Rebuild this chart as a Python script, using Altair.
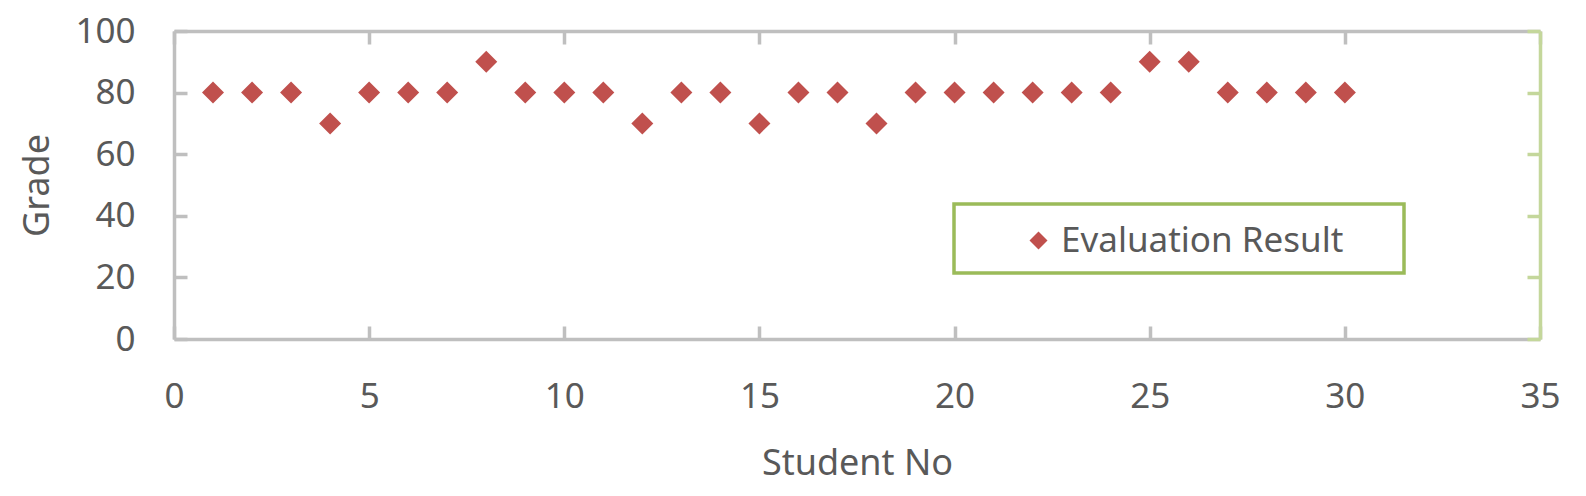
import altair as alt
import pandas as pd

# Grades per student
student_no = list(range(1, 31))
grade = [80, 80, 80, 70, 80, 80, 80, 90, 80, 80,
         80, 70, 80, 80, 70, 80, 80, 70, 80, 80,
         80, 80, 80, 80, 90, 90, 80, 80, 80, 80]
series_name = "Evaluation Result"

x_ticks = [0, 5, 10, 15, 20, 25, 30, 35]
y_ticks = [0, 20, 40, 60, 80, 100]

df = pd.DataFrame({"Student No": student_no, "Grade": grade, "series": series_name})

W, H = 1366, 308
FONT = "Noto Sans"
TEXT = "#595959"
GRAY = "#bfbfbf"
GREEN_AXIS = "#c4d79b"
LEGEND_BORDER = "#9bbb59"
MARKER = "#c0504d"
LINE_W = 3.5
TICK = 13

x_scale = alt.Scale(domain=[0, 35], nice=False, zero=False)
y_scale = alt.Scale(domain=[0, 100], nice=False)

base = alt.Chart(df)

# Data points with the labelled left / bottom axes
points = base.mark_point(shape="diamond", filled=True, size=484, opacity=1, strokeWidth=0).encode(
    x=alt.X("Student No:Q", scale=x_scale,
            axis=alt.Axis(orient="bottom", values=x_ticks, domain=True, domainColor=GRAY,
                          domainWidth=LINE_W, ticks=False, labelPadding=40, labelFlush=False,
                          labelFontSize=35, labelFont=FONT, labelColor=TEXT,
                          title="Student No", titleFontSize=36, titleFont=FONT,
                          titleColor=TEXT, titleFontWeight="normal", titlePadding=32)),
    y=alt.Y("Grade:Q", scale=y_scale,
            axis=alt.Axis(orient="left", values=y_ticks, domain=True, domainColor=GRAY,
                          domainWidth=LINE_W, ticks=False, labelPadding=39, labelFlush=False,
                          labelFontSize=35, labelFont=FONT, labelColor=TEXT,
                          title="Grade", titleFontSize=36, titleFont=FONT,
                          titleColor=TEXT, titleFontWeight="normal", titlePadding=18)),
    color=alt.Color("series:N", scale=alt.Scale(range=[MARKER]),
                    legend=alt.Legend(orient="none", legendX=847, legendY=192, title=None,
                                      symbolType="diamond", symbolSize=324,
                                      symbolStrokeWidth=0, labelFontSize=35, labelLimit=0,
                                      labelFont=FONT, labelColor=TEXT, labelOffset=5,
                                      padding=0)),
)

# Inward ticks: up from the bottom edge, right from the left edge
inner_ticks = base.mark_point(opacity=0).encode(
    x=alt.X("Student No:Q", scale=x_scale,
            axis=alt.Axis(orient="top", offset=-H, values=x_ticks, domain=False,
                          ticks=True, tickColor=GRAY, tickWidth=LINE_W, tickSize=TICK,
                          labels=False, title=None)),
    y=alt.Y("Grade:Q", scale=y_scale,
            axis=alt.Axis(orient="right", offset=-W, values=y_ticks, domain=False,
                          ticks=True, tickColor=GRAY, tickWidth=LINE_W, tickSize=TICK,
                          labels=False, title=None)),
)

# Frame: top edge (gray, ticks down) and right edge (green, ticks left)
frame = base.mark_point(opacity=0).encode(
    x=alt.X("Student No:Q", scale=x_scale,
            axis=alt.Axis(orient="bottom", offset=-H, values=x_ticks, domain=True,
                          domainColor=GRAY, domainWidth=LINE_W,
                          ticks=True, tickColor=GRAY, tickWidth=LINE_W, tickSize=TICK,
                          labels=False, title=None)),
    y=alt.Y("Grade:Q", scale=y_scale,
            axis=alt.Axis(orient="left", offset=-W, values=y_ticks, domain=True,
                          domainColor=GREEN_AXIS, domainWidth=LINE_W,
                          ticks=True, tickColor=GREEN_AXIS, tickWidth=LINE_W, tickSize=TICK,
                          labels=False, title=None)),
)

# Legend border
legend_box = alt.Chart(pd.DataFrame({"series": [series_name]})).mark_rect(
    fill="white", fillOpacity=0, stroke=LEGEND_BORDER, strokeWidth=3.5
).encode(
    x=alt.value(780), x2=alt.value(1230), y=alt.value(173), y2=alt.value(242)
)

chart = alt.layer(points, inner_ticks, frame, legend_box).resolve_axis(
    x="independent", y="independent"
).properties(
    width=W, height=H,
    autosize=alt.AutoSizeParams(type="none"),
    padding={"left": 174, "top": 31, "right": 46, "bottom": 157},
    background="white",
).configure_view(stroke=None).configure_axis(grid=False)

chart.save("out.html", embed_options={"renderer": "svg", "actions": False})
